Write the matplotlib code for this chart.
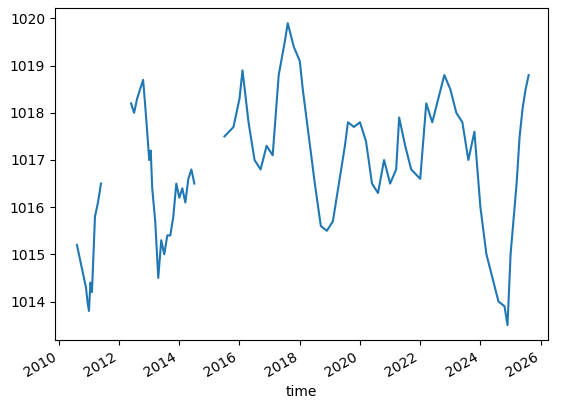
import matplotlib
matplotlib.use("Agg")
import matplotlib.pyplot as plt
import numpy as np
import pandas as pd

seg1_t = [2010.6, 2010.7, 2010.8, 2010.9, 2010.95, 2011.0, 2011.05, 2011.1, 2011.15, 2011.2, 2011.3, 2011.4]
seg1_v = [1015.2, 1014.9, 1014.6, 1014.3, 1014.0, 1013.8, 1014.4, 1014.2, 1015.0, 1015.8, 1016.1, 1016.5]
seg2_t = [2012.4, 2012.5, 2012.6, 2012.7, 2012.8, 2012.9, 2013.0, 2013.05, 2013.1, 2013.2, 2013.3, 2013.4, 2013.5, 2013.6, 2013.7, 2013.8, 2013.9, 2014.0, 2014.1, 2014.2, 2014.3, 2014.4, 2014.5]
seg2_v = [1018.2, 1018.0, 1018.3, 1018.5, 1018.7, 1017.9, 1017.0, 1017.2, 1016.4, 1015.7, 1014.5, 1015.3, 1015.0, 1015.4, 1015.4, 1015.8, 1016.5, 1016.2, 1016.4, 1016.1, 1016.6, 1016.8, 1016.5]
seg3_t = [2015.5, 2015.8, 2016.0, 2016.1, 2016.3, 2016.5, 2016.7, 2016.9, 2017.1, 2017.3, 2017.5, 2017.6, 2017.8, 2018.0, 2018.1, 2018.3, 2018.5, 2018.7, 2018.9, 2019.1, 2019.3, 2019.5, 2019.6, 2019.8, 2020.0, 2020.2, 2020.4, 2020.6, 2020.8, 2021.0, 2021.2, 2021.3, 2021.5, 2021.7, 2022.0, 2022.2, 2022.4, 2022.6, 2022.8, 2023.0, 2023.2, 2023.4, 2023.6, 2023.8, 2024.0, 2024.2, 2024.4, 2024.6, 2024.8, 2024.9, 2025.0, 2025.2, 2025.3, 2025.4, 2025.5, 2025.6]
seg3_v = [1017.5, 1017.7, 1018.3, 1018.9, 1017.8, 1017.0, 1016.8, 1017.3, 1017.1, 1018.8, 1019.5, 1019.9, 1019.4, 1019.1, 1018.5, 1017.5, 1016.5, 1015.6, 1015.5, 1015.7, 1016.5, 1017.3, 1017.8, 1017.7, 1017.8, 1017.4, 1016.5, 1016.3, 1017.0, 1016.5, 1016.8, 1017.9, 1017.3, 1016.8, 1016.6, 1018.2, 1017.8, 1018.3, 1018.8, 1018.5, 1018.0, 1017.8, 1017.0, 1017.6, 1016.0, 1015.0, 1014.5, 1014.0, 1013.9, 1013.5, 1015.0, 1016.5, 1017.5, 1018.1, 1018.5, 1018.8]

def to_dates(ts):
    return [pd.Timestamp(int(t), 1, 1) + pd.Timedelta(days=(t - int(t)) * 365.25) for t in ts]

times = []
vals = []
for seg_t, seg_v in [(seg1_t, seg1_v), (seg2_t, seg2_v), (seg3_t, seg3_v)]:
    d = to_dates(seg_t)
    times += d + [d[-1] + pd.Timedelta(days=10)]
    vals += seg_v + [np.nan]
s = pd.Series(vals, index=pd.DatetimeIndex(times))

fig, ax = plt.subplots(figsize=(5.61, 4.05), dpi=100)
ax.plot(s.index, s.values, color="#1f77b4", linewidth=1.5)
ax.set_xlabel("time")
ax.set_xlim(pd.Timestamp(2009, 11, 15), pd.Timestamp(2026, 4, 1))
fig.autofmt_xdate()
fig.subplots_adjust(left=0.098, right=0.977, top=0.98, bottom=0.16)
fig.savefig("out.png")
